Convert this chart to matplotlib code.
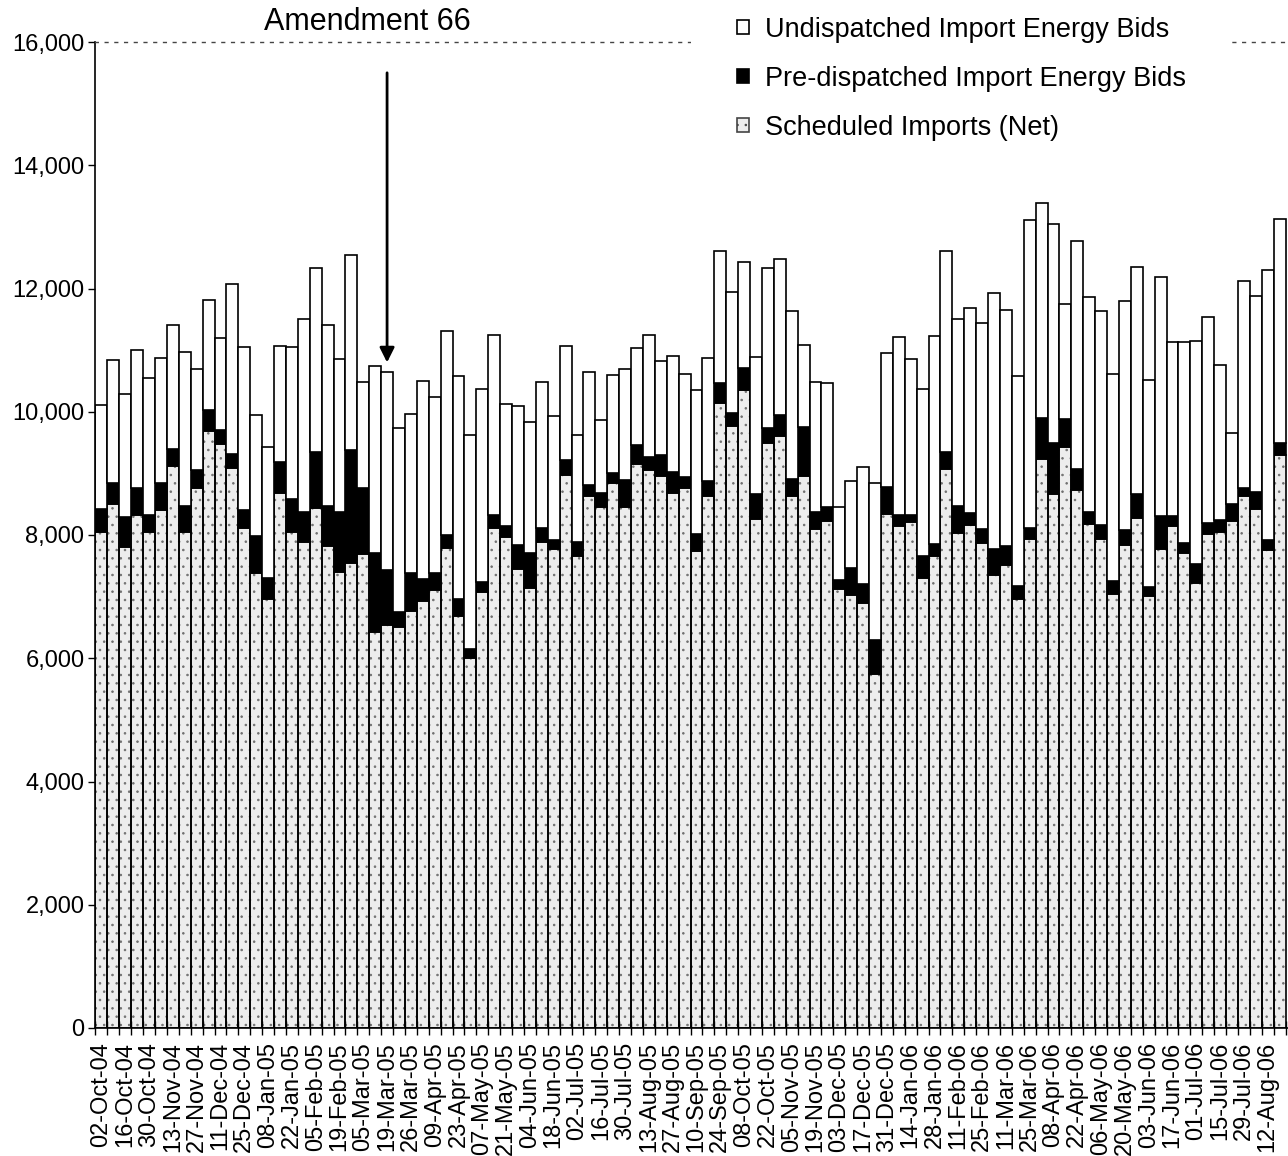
import matplotlib
matplotlib.use("Agg")
import matplotlib.pyplot as plt
import numpy as np
from matplotlib.patches import Patch
from matplotlib.ticker import FuncFormatter, MultipleLocator

plt.rcParams['font.family'] = ['Liberation Sans', 'DejaVu Sans']
plt.rcParams['hatch.linewidth'] = 0.6

# Weekly values (MW)
scheduled = [8050, 8500, 7810, 8320, 8050, 8400, 9120, 8050, 8770, 9680,
             9480, 9090, 8120, 7390, 6960, 8680, 8050, 7880, 8440, 7820,
             7400, 7540, 7690, 6430, 6540, 6500, 6760, 6930, 7100, 7790,
             6690, 6000, 7070, 8110, 7970, 7450, 7140, 7880, 7770, 8970,
             7660, 8630, 8460, 8840, 8460, 9150, 9060, 8950, 8680, 8770,
             7740, 8630, 10150, 9770, 10360, 8260, 9500, 9610, 8640, 8950,
             8100, 8230, 7120, 7030, 6890, 5740, 8340, 8140, 8210, 7310,
             7660, 9070, 8040, 8170, 7870, 7350, 7510, 6960, 7930, 9240,
             8660, 9420, 8730, 8180, 7940, 7040, 7840, 8280, 7010, 7770,
             8150, 7700, 7220, 8020, 8050, 8230, 8630, 8430, 7750, 9300]
predispatched = [380, 350, 490, 450, 270, 450, 280, 420, 280, 350,
                 230, 220, 280, 600, 340, 500, 530, 490, 900, 650,
                 970, 1840, 1070, 1280, 900, 250, 620, 350, 280, 210,
                 270, 150, 170, 210, 170, 390, 570, 240, 150, 240,
                 220, 180, 220, 170, 430, 310, 200, 350, 340, 170,
                 270, 250, 310, 210, 350, 410, 240, 340, 270, 800,
                 270, 230, 150, 440, 310, 560, 440, 190, 120, 350,
                 190, 270, 430, 180, 230, 420, 310, 210, 180, 660,
                 830, 460, 340, 200, 220, 210, 240, 380, 140, 540,
                 160, 170, 310, 170, 200, 280, 140, 270, 170, 200]
undispatched = [1680, 1990, 1990, 2240, 2230, 2020, 2000, 2500, 1650, 1790,
                1490, 2760, 2650, 1960, 2120, 1880, 2470, 3140, 3000, 2930,
                2480, 3170, 1720, 3040, 3210, 2990, 2580, 3220, 2860, 3310,
                3620, 3480, 3130, 2930, 1980, 2260, 2130, 2360, 2010, 1860,
                1740, 1840, 1180, 1580, 1800, 1580, 1990, 1530, 1880, 1680,
                2340, 2000, 2150, 1960, 1720, 2220, 2590, 2530, 2730, 1340,
                2120, 2000, 1190, 1410, 1910, 2550, 2170, 2890, 2530, 2710,
                3380, 3270, 3040, 3340, 3340, 4150, 3830, 3410, 5000, 3480,
                3550, 1870, 3700, 3490, 3470, 3360, 3720, 3690, 3360, 3870,
                2820, 3260, 3610, 3340, 2510, 1140, 3350, 3180, 4380, 3620]

# labels shown on every second week
tick_labels = ["02-Oct-04", "16-Oct-04", "30-Oct-04", "13-Nov-04", "27-Nov-04",
               "11-Dec-04", "25-Dec-04", "08-Jan-05", "22-Jan-05", "05-Feb-05",
               "19-Feb-05", "05-Mar-05", "19-Mar-05", "26-Mar-05", "09-Apr-05",
               "23-Apr-05", "07-May-05", "21-May-05", "04-Jun-05", "18-Jun-05",
               "02-Jul-05", "16-Jul-05", "30-Jul-05", "13-Aug-05", "27-Aug-05",
               "10-Sep-05", "24-Sep-05", "08-Oct-05", "22-Oct-05", "05-Nov-05",
               "19-Nov-05", "03-Dec-05", "17-Dec-05", "31-Dec-05", "14-Jan-06",
               "28-Jan-06", "11-Feb-06", "25-Feb-06", "11-Mar-06", "25-Mar-06",
               "08-Apr-06", "22-Apr-06", "06-May-06", "20-May-06", "03-Jun-06",
               "17-Jun-06", "01-Jul-06", "15-Jul-06", "29-Jul-06", "12-Aug-06"]

amendment_week = 24  # 19-Mar-05

scheduled = np.array(scheduled)
predispatched = np.array(predispatched)
undispatched = np.array(undispatched)
x = np.arange(len(scheduled))

fig = plt.figure(figsize=(12.88, 11.56), dpi=100)
ax = fig.add_axes([95.5 / 1288, 128 / 1156, 1202 / 1288, 986 / 1156])

stipple = '#ededed'
ax.bar(x, scheduled, width=1.0, color=stipple, edgecolor='#707070', linewidth=0, hatch='..')
ax.bar(x, scheduled, width=1.0, fill=False, edgecolor='black', linewidth=1.2)
ax.bar(x, predispatched, width=1.0, bottom=scheduled, color='black', edgecolor='black', linewidth=1.2)
ax.bar(x, undispatched, width=1.0, bottom=scheduled + predispatched, color='white',
       edgecolor='black', linewidth=1.2)

ax.set_xlim(-0.5, 100.5)
ax.set_ylim(0, 16000)

ax.yaxis.set_major_locator(MultipleLocator(2000))
ax.yaxis.set_major_formatter(FuncFormatter(lambda v, p: f"{int(v):,}"))
ax.tick_params(axis='y', direction='out', length=5, width=1, pad=3, labelsize=17)

ax.set_xticks(x[::2])
ax.set_xticklabels(tick_labels, rotation=90, fontsize=17)
ax.set_xticks(np.arange(-0.5, len(x) + 0.5, 1), minor=True)
ax.tick_params(axis='x', which='major', length=0, pad=10)
ax.tick_params(axis='x', which='minor', direction='inout', length=10, width=1)

ax.spines['right'].set_visible(False)
ax.spines['top'].set_linestyle((0, (2, 5)))
ax.spines['top'].set_linewidth(1)
ax.spines['top'].set_color('#444444')
ax.spines['left'].set_linewidth(1.2)
ax.spines['bottom'].set_linewidth(1.2)

# Amendment 66 arrow
tip = scheduled[amendment_week] + predispatched[amendment_week] + undispatched[amendment_week] + 150
ax.annotate('', xy=(amendment_week, tip), xytext=(amendment_week, 15500),
            arrowprops=dict(arrowstyle='-|>', color='black', lw=2, mutation_scale=22,
                            shrinkA=0, shrinkB=0))
fig.text(367 / 1288, 1 - 22 / 1156, 'Amendment 66', fontsize=22, ha='center', va='center')

handles = [Patch(facecolor='white', edgecolor='black', linewidth=1.2),
           Patch(facecolor='black', edgecolor='black', linewidth=1.2),
           Patch(facecolor=stipple, edgecolor='#444444', linewidth=1.2, hatch='..')]
names = ['Undispatched Import Energy Bids', 'Pre-dispatched Import Energy Bids',
         'Scheduled Imports (Net)']
leg = fig.legend(handles, names, loc='upper left', bbox_to_anchor=(0.5256, 1.037),
                 fontsize=19.5, frameon=True, facecolor='white', edgecolor='none',
                 framealpha=1, fancybox=False, borderpad=1.7, handlelength=0.45,
                 handleheight=0.45, handletextpad=0.6, labelspacing=0.85)

fig.savefig('out.png', dpi=100)
